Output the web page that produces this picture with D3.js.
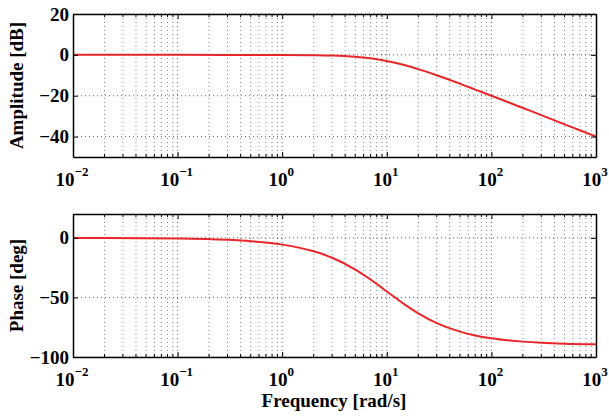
<!DOCTYPE html>
<html>
<head>
<meta charset="utf-8">
<script src="https://cdn.jsdelivr.net/npm/d3@7"></script>
<style>
  body { margin: 0; background: #fff; }
  text { font-family: "Liberation Serif", "Times New Roman", serif; font-weight: bold; }
  .grid line { stroke: #666; stroke-width: 0.8; stroke-dasharray: 1,3; }
  .grid .major { stroke: #333; }
  .axis path, .axis line { stroke: #000; }
</style>
</head>
<body>
<script>
// frequency samples [rad/s] and values
var ampFreq = [0.01, 0.1, 1, 2, 3, 5, 7, 10, 15, 20, 30, 50, 70, 100, 200, 300, 500, 700, 1000];
var ampDb   = [0, 0, -0.04, -0.17, -0.37, -0.97, -1.7, -3.0, -5.1, -7.0, -10.0, -14.1, -17.0, -20.0, -26.0, -29.5, -34.0, -36.9, -40.0];

var phaseFreq = [0.01, 0.1, 0.3, 0.5, 1, 2, 3, 5, 7, 10, 15, 20, 30, 50, 70, 100, 200, 300, 500, 1000];
var phaseDeg  = [-0.06, -0.6, -1.7, -2.9, -5.7, -11.3, -16.7, -26.6, -35.0, -45.0, -56.3, -63.4, -71.6, -78.7, -81.9, -84.3, -87.1, -88.1, -88.9, -89.4];

var xTicks = [0.01, 0.1, 1, 10, 100, 1000];
var ampTicks = [20, 0, -20, -40];
var phaseTicks = [0, -50, -100];

var W = 609, H = 416;
var left = 73, right = 596;

var svg = d3.select("body").append("svg")
    .attr("width", W)
    .attr("height", H);

var x = d3.scaleLog().domain([0.01, 1000]).range([left, right]);

// minor tick positions 2..9 per decade
var minor = [];
[0.01, 0.1, 1, 10, 100].forEach(function(d) {
  for (var k = 2; k <= 9; k++) minor.push(d * k);
});

function drawPanel(top, bottom, yDomain, yTicks, freq, vals, ylabel) {
  var y = d3.scaleLinear().domain(yDomain).range([bottom, top]);
  var g = svg.append("g");

  // grid
  var grid = g.append("g").attr("class", "grid");
  grid.selectAll(".minx").data(minor).enter().append("line")
      .attr("x1", function(d) { return x(d); }).attr("x2", function(d) { return x(d); })
      .attr("y1", top).attr("y2", bottom);
  grid.selectAll(".majx").data(xTicks.slice(1, -1)).enter().append("line")
      .attr("class", "major")
      .attr("x1", function(d) { return x(d); }).attr("x2", function(d) { return x(d); })
      .attr("y1", top).attr("y2", bottom);
  grid.selectAll(".majy").data(yTicks).enter().append("line")
      .attr("class", "major")
      .attr("x1", left).attr("x2", right)
      .attr("y1", function(d) { return y(d); }).attr("y2", function(d) { return y(d); });

  // line
  var line = d3.line()
      .x(function(d) { return x(d[0]); })
      .y(function(d) { return y(d[1]); })
      .curve(d3.curveMonotoneX);
  g.append("path")
      .datum(d3.zip(freq, vals))
      .attr("fill", "none")
      .attr("stroke", "#e8262a")
      .attr("stroke-width", 2)
      .attr("d", line);

  // axes with inner ticks on all four sides
  var xb = g.append("g").attr("class", "axis")
      .attr("transform", "translate(0," + bottom + ")")
      .call(d3.axisBottom(x).tickValues(xTicks).tickSizeInner(-5).tickSizeOuter(0).tickFormat(""));
  xb.selectAll(".minor").data(minor).enter().append("line")
      .attr("x1", function(d) { return x(d); }).attr("x2", function(d) { return x(d); })
      .attr("y1", 0).attr("y2", -3).attr("stroke", "#000");
  xb.selectAll(".tick text").remove();
  xb.selectAll(".lab").data(xTicks).enter().append("text")
      .attr("x", function(d) { return x(d) - 1; })
      .attr("y", 29)
      .attr("text-anchor", "middle")
      .attr("fill", "#000")
      .attr("font-size", 19)
      .each(function(d) {
        var t = d3.select(this);
        t.append("tspan").text("10");
        t.append("tspan").attr("dy", -10).attr("font-size", 13)
          .text(String(Math.round(Math.log10(d))).replace("-", "\u2212"));
      });
  xb.select(".domain").attr("stroke-width", 1.5);

  var xt = g.append("g").attr("class", "axis")
      .attr("transform", "translate(0," + top + ")")
      .call(d3.axisTop(x).tickValues(xTicks).tickSizeInner(-5).tickSizeOuter(0).tickFormat(""));
  xt.selectAll(".minor").data(minor).enter().append("line")
      .attr("x1", function(d) { return x(d); }).attr("x2", function(d) { return x(d); })
      .attr("y1", 0).attr("y2", 3).attr("stroke", "#000");
  xt.select(".domain").attr("stroke-width", 1.5);

  var yl = g.append("g").attr("class", "axis")
      .attr("transform", "translate(" + left + ",0)")
      .call(d3.axisLeft(y).tickValues(yTicks).tickSizeInner(-5).tickSizeOuter(0).tickPadding(4)
        .tickFormat(function(d) { return String(d).replace("-", "\u2212"); }));
  yl.selectAll(".tick text").attr("font-size", 19).attr("fill", "#000");
  yl.select(".domain").attr("stroke-width", 1.5);

  var yr = g.append("g").attr("class", "axis")
      .attr("transform", "translate(" + right + ",0)")
      .call(d3.axisRight(y).tickValues(yTicks).tickSizeInner(-5).tickSizeOuter(0).tickFormat(""));
  yr.select(".domain").attr("stroke-width", 1.5);

  g.append("text")
      .attr("transform", "translate(23," + ((top + bottom) / 2) + ") rotate(-90)")
      .attr("text-anchor", "middle")
      .attr("font-size", 19)
      .text(ylabel);
}

drawPanel(14, 157, [-50, 20], ampTicks, ampFreq, ampDb, "Amplitude [dB]");
drawPanel(214, 357, [-100, 20], phaseTicks, phaseFreq, phaseDeg, "Phase [deg]");

svg.append("text")
    .attr("x", 334)
    .attr("y", 407)
    .attr("text-anchor", "middle")
    .attr("font-size", 19)
    .text("Frequency [rad/s]");
</script>
</body>
</html>
